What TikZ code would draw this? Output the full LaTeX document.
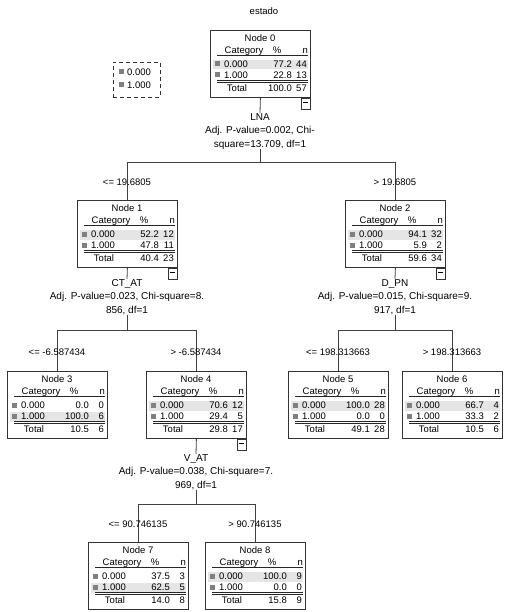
\documentclass[tikz,border=0pt]{standalone}
\usepackage{fontspec}
\setmainfont{Liberation Sans}
\definecolor{rowhl}{gray}{0.9}
\definecolor{catsq}{gray}{0.5}
\tikzset{
  txt/.style      = {font=\fontsize{9.5}{13}\selectfont, inner sep=0pt},
  nodebox/.style  = {draw=black!80, line width=0.8pt, minimum width=100pt,
                     minimum height=67pt, inner sep=0pt, anchor=north west},
  rule/.style     = {black!85, line width=0.7pt},
  branch/.style   = {black!75, line width=0.8pt},
  minusbox/.style = {draw=black!80, line width=0.7pt, minimum width=9pt,
                     minimum height=11pt, inner sep=0pt, anchor=north east},
  splitlab/.style = {font=\fontsize{10}{13.5}\selectfont, inner sep=0pt,
                     align=center, anchor=north}
}

\begin{document}
\begin{tikzpicture}[x=1pt,y=-1pt]
  \useasboundingbox (0,0) rectangle (511,612);
  \node[txt] (title) at (264,11) {estado};
  % legend
  \node[draw=black!80, dash pattern=on 4pt off 3pt, line width=0.7pt,
        minimum width=47pt, minimum height=35pt, inner sep=0pt, anchor=north west]
        (legend) at (113,62) {};
  \fill[catsq] (119,69.5) rectangle (124,74.5);
  \fill[catsq] (119,82.5) rectangle (124,87.5);
  \node[txt,anchor=base west] (leg0) at (127,75.3) {0.000};
  \node[txt,anchor=base west] (leg1) at (127,88.3) {1.000};
  % the tree nodes: name/left/top/number/highlighted row/values
  \foreach \nm/\lx/\ty/\num/\hl/\pa/\na/\pb/\nb/\tp/\tn in {
      n0/210/30/0/1/77.2/44/22.8/13/100.0/57,
      n1/77/200/1/1/52.2/12/47.8/11/40.4/23,
      n2/345/200/2/1/94.1/32/5.9/2/59.6/34,
      n3/7/371/3/2/0.0/0/100.0/6/10.5/6,
      n4/146/371/4/1/70.6/12/29.4/5/29.8/17,
      n5/288/371/5/1/100.0/28/0.0/0/49.1/28,
      n6/402/371/6/1/66.7/4/33.3/2/10.5/6,
      n7/88/542/7/2/37.5/3/62.5/5/14.0/8,
      n8/205/542/8/1/100.0/9/0.0/0/15.8/9}
  { \begin{scope}[shift={(\lx,\ty)}]
      \fill[rowhl] (3,{19+11*\hl}) rectangle (98,{28.5+11*\hl});
      \node[nodebox] (\nm) at (0,0) {};
      \node[txt,anchor=base] at (50,11.3) {Node \num};
      \node[txt,anchor=base] at (34,23.3) {Category};
      \node[txt,anchor=base] at (67,23.3) {\%};
      \node[txt,anchor=base east] at (98,23.3) {n};
      \draw[rule] (7,25.5) -- (98,25.5);
      \fill[catsq] (5,31.5) rectangle (10,36.5);
      \node[txt,anchor=base west] at (14,37.3) {0.000};
      \node[txt,anchor=base east] at (82,37.3) {\pa};
      \node[txt,anchor=base east] at (97,37.3) {\na};
      \fill[catsq] (5,42.5) rectangle (10,47.5);
      \node[txt,anchor=base west] at (14,48.3) {1.000};
      \node[txt,anchor=base east] at (82,48.3) {\pb};
      \node[txt,anchor=base east] at (97,48.3) {\nb};
      \draw[rule] (7,50.5) -- (98,50.5);
      \draw[rule] (7,52.5) -- (98,52.5);
      \node[txt,anchor=base] at (27,61.3) {Total};
      \node[txt,anchor=base east] at (82,61.3) {\tp};
      \node[txt,anchor=base east] at (97,61.3) {\tn};
    \end{scope} }
  % collapse boxes under the split nodes
  \foreach \nm in {n0,n1,n2,n4}
    \node[minusbox] (\nm m) at (\nm.south east) {\rule[2pt]{5pt}{0.8pt}};
  % split texts
  \node[splitlab] (sp0) at (260,113) {LNA\\Adj. P-value=0.002, Chi-\\square=13.709, df=1};
  \node[splitlab] (sp1) at (127,279) {CT\_AT\\Adj. P-value=0.023, Chi-square=8.\\856, df=1};
  \node[splitlab] (sp2) at (395,279) {D\_PN\\Adj. P-value=0.015, Chi-square=9.\\917, df=1};
  \node[splitlab] (sp4) at (196,454) {V\_AT\\Adj. P-value=0.038, Chi-square=7.\\969, df=1};
  \coordinate (b0) at (260,162);
  \coordinate (b1) at (127,330);
  \coordinate (b2) at (395,330);
  \coordinate (b4) at (196,504);
  % connectors
  \draw[branch] (n0.south) -- (sp0.north);
  \draw[branch] (n1.south) -- (sp1.north);
  \draw[branch] (n2.south) -- (sp2.north);
  \draw[branch] (n4.south) -- (sp4.north);
  \draw[branch] (sp0.south) -- (b0) -| (n1.north);
  \draw[branch] (b0) -| (n2.north);
  \draw[branch] (sp1.south) -- (b1) -| (n3.north);
  \draw[branch] (b1) -| (n4.north);
  \draw[branch] (sp2.south) -- (b2) -| (n5.north);
  \draw[branch] (b2) -| (n6.north);
  \draw[branch] (sp4.south) -- (b4) -| (n7.north);
  \draw[branch] (b4) -| (n8.north);
  % branch conditions, sitting on the lines
  \node[txt] (c1) at (127,182) {<= 19.6805};
  \node[txt] (c2) at (395,182) {> 19.6805};
  \node[txt] (c3) at (57,352) {<= -6.587434};
  \node[txt] (c4) at (196,352) {> -6.587434};
  \node[txt] (c5) at (338,352) {<= 198.313663};
  \node[txt] (c6) at (452,352) {> 198.313663};
  \node[txt] (c7) at (138,524) {<= 90.746135};
  \node[txt] (c8) at (255,524) {> 90.746135};
\end{tikzpicture}
\end{document}
